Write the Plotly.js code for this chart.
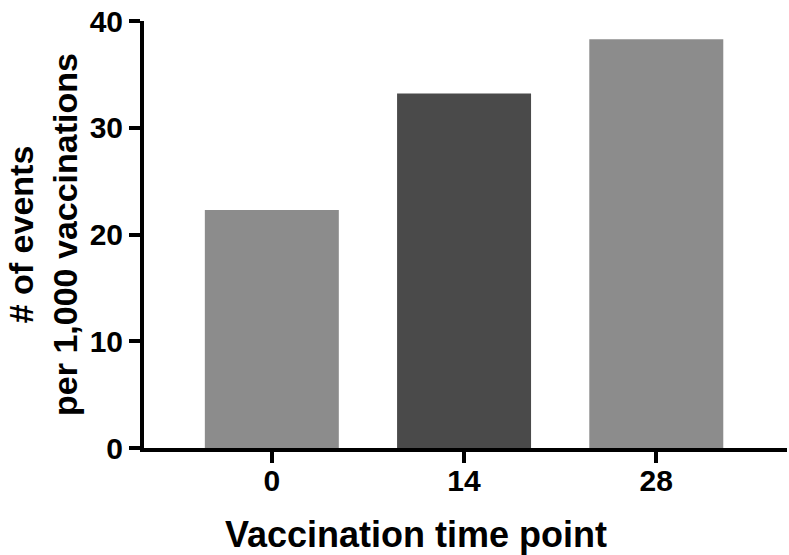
<!DOCTYPE html>
<html>
<head>
<meta charset="utf-8">
<script src="https://cdn.plot.ly/plotly-3.0.1.min.js"></script>
<style>html,body{margin:0;padding:0;background:#fff;}#chart{width:789px;height:555px;}</style>
</head>
<body>
<div id="chart"></div>
<script>
const categories = ["0", "14", "28"];
const values = [22.3, 33.2, 38.3];
const barColors = ["#8c8c8c", "#4a4a4a", "#8c8c8c"];
const yTickVals = [0, 10, 20, 30, 40];
const xTitle = "Vaccination time point";
const yTitle = "# of events<br>per 1,000 vaccinations";

const font = "Liberation Sans, Arial, sans-serif";

const trace = {
  type: "bar",
  x: categories,
  y: values,
  width: 0.697,
  marker: {color: barColors, line: {width: 0}},
  hoverinfo: "none"
};

const layout = {
  width: 789,
  height: 555,
  margin: {l: 144, r: 2, t: 21, b: 107},
  paper_bgcolor: "#fff",
  plot_bgcolor: "#fff",
  showlegend: false,
  font: {family: font, color: "#000"},
  xaxis: {
    type: "category",
    range: [-0.665, 2.68],
    showline: true,
    linecolor: "#000",
    linewidth: 4,
    ticks: "outside",
    ticklen: 11,
    tickwidth: 4,
    tickcolor: "#000",
    ticklabelstandoff: -8,
    tickfont: {family: font, size: 30, color: "#000", weight: "bold"},
    showgrid: false,
    zeroline: false,
    fixedrange: true
  },
  yaxis: {
    range: [0, 40],
    tickvals: yTickVals,
    ticktext: yTickVals.map(String),
    showline: true,
    linecolor: "#000",
    linewidth: 4,
    ticks: "outside",
    ticklen: 11,
    tickwidth: 4,
    tickcolor: "#000",
    tickfont: {family: font, size: 30, color: "#000", weight: "bold"},
    showgrid: false,
    zeroline: false,
    fixedrange: true
  },
  annotations: [
    {
      text: xTitle,
      xref: "paper", yref: "paper",
      x: 0.423, y: -0.15,
      xanchor: "center", yanchor: "top",
      showarrow: false,
      font: {family: font, size: 36, color: "#000", weight: "bold"}
    },
    {
      text: yTitle,
      xref: "paper", yref: "paper",
      x: -0.158, y: 0.5,
      xanchor: "center", yanchor: "middle",
      textangle: -90,
      showarrow: false,
      font: {family: font, size: 34, color: "#000", weight: "bold"}
    }
  ]
};

Plotly.newPlot("chart", [trace], layout, {staticPlot: true, displayModeBar: false});
</script>
</body>
</html>
